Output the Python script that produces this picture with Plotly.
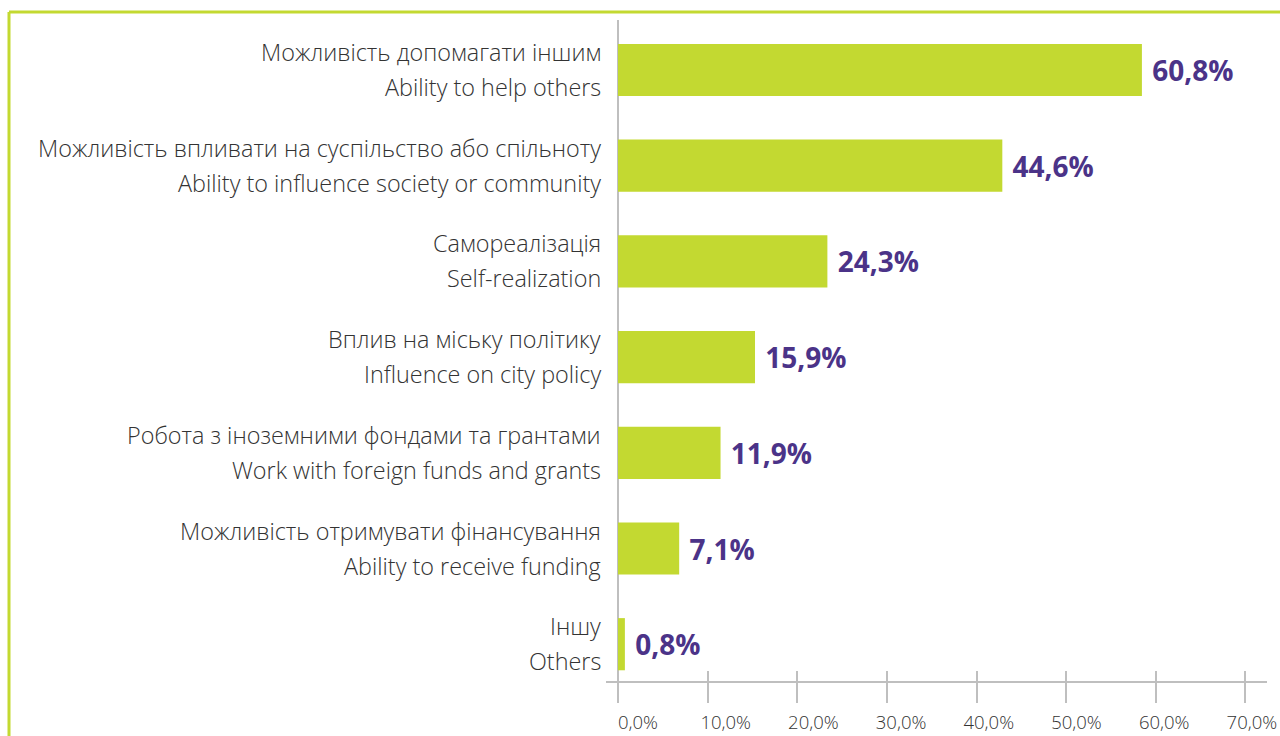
import plotly.graph_objects as go

labels_ua = [
    "Можливість допомагати іншим",
    "Можливість впливати на суспільство або спільноту",
    "Самореалізація",
    "Вплив на міську політику",
    "Робота з іноземними фондами та грантами",
    "Можливість отримувати фінансування",
    "Іншу",
]
labels_en = [
    "Ability to help others",
    "Ability to influence society or community",
    "Self-realization",
    "Influence on city policy",
    "Work with foreign funds and grants",
    "Ability to receive funding",
    "Others",
]
values = [60.8, 44.6, 24.3, 15.9, 11.9, 7.1, 0.8]
tick_vals = [0, 10, 20, 30, 40, 50, 60, 70]
tick_text = ["0,0%", "10,0%", "20,0%", "30,0%", "40,0%", "50,0%", "60,0%", "70,0%"]

GREEN = "#c3d931"
PURPLE = "#4b3388"
GRAY = "#bfbfbf"
TEXT = "#333333"

cats = list(range(len(values)))
value_text = [" " + f"{v:.1f}".replace(".", ",") + "%" for v in values]

fig = go.Figure()
fig.add_trace(go.Bar(
    x=values, y=cats, orientation="h", xaxis="x", yaxis="y",
    marker=dict(color=GREEN, line=dict(width=0)),
    width=0.545,
    text=value_text, textposition="outside", cliponaxis=False,
    textfont=dict(family="Open Sans", size=28, color=PURPLE, weight=700),
    hoverinfo="skip",
))
for ax in ("x2", "x3", "x4"):
    fig.add_trace(go.Scatter(x=[0, 70], y=[0, 0], xaxis=ax, yaxis="y", mode="markers",
                             marker=dict(opacity=0), hoverinfo="skip", showlegend=False))

FW, FH = 1280, 736
# Plot area in px: left 606, right 1267, top 20, bottom 681
L = 606
T = 20
R = FW - 1267
B = FH - 681
W = FW - L - R
H = FH - T - B

zero_px = 618 - L
bar_px_per = 8.617
bar_r0 = -zero_px / bar_px_per
bar_r1 = bar_r0 + W / bar_px_per
tick_px_per = 8.964
tk_r0 = -zero_px / tick_px_per
tk_r1 = tk_r0 + W / tick_px_per
lab_px_per = 8.77
lab_r0 = -(638 - L) / lab_px_per
lab_r1 = lab_r0 + W / lab_px_per

y_step = 95.7
y_top = -(70 - T) / y_step
y_bot = y_top + H / y_step

fig.update_layout(
    width=FW, height=FH,
    margin=dict(l=L, r=R, t=T, b=B, pad=0, autoexpand=False),
    paper_bgcolor="white", plot_bgcolor="white",
    showlegend=False,
    xaxis=dict(range=[bar_r0, bar_r1], visible=False, fixedrange=True, automargin=False),
    xaxis2=dict(
        range=[tk_r0, tk_r1], overlaying="x", anchor="y", side="bottom",
        tickvals=tick_vals, showticklabels=False, automargin=False,
        ticks="outside", ticklen=20, tickwidth=1.5, tickcolor=GRAY,
        showline=True, linecolor=GRAY, linewidth=1.5,
        showgrid=False, zeroline=True, zerolinecolor=GRAY, zerolinewidth=1.5,
    ),
    xaxis3=dict(
        range=[tk_r0, tk_r1], overlaying="x", anchor="y", side="bottom",
        tickvals=tick_vals, showticklabels=False, automargin=False,
        ticks="inside", ticklen=10, tickwidth=1.5, tickcolor=GRAY,
        showline=False, showgrid=False, zeroline=False,
    ),
    xaxis4=dict(
        range=[lab_r0, lab_r1], overlaying="x", anchor="y", side="bottom",
        tickvals=tick_vals, ticktext=tick_text, ticks="", automargin=False,
        showline=False, showgrid=False, zeroline=False,
        ticklabelstandoff=28,
        tickfont=dict(family="Open Sans", size=18.5, color=TEXT, weight=300),
    ),
    yaxis=dict(range=[y_bot, y_top], visible=False, fixedrange=True, automargin=False),
)

annotations = []
for i in cats:
    annotations.append(dict(
        x=0, xref="paper", xanchor="right", xshift=-3,
        y=i, yref="y", yanchor="middle", yshift=18,
        text=labels_ua[i], showarrow=False,
        font=dict(family="Open Sans", size=23.4, color=TEXT, weight=300),
    ))
    annotations.append(dict(
        x=0, xref="paper", xanchor="right", xshift=-3,
        y=i, yref="y", yanchor="middle", yshift=-17,
        text=labels_en[i], showarrow=False,
        font=dict(family="Open Sans", size=23.4, color=TEXT, weight=300),
    ))
fig.update_layout(annotations=annotations)

# decorative frame (left and top border), px x=9, y=12
fx = (9 - L) / W
fy_top = ((FH - B) - 12) / H
fig.add_shape(type="line", xref="paper", yref="paper", x0=fx, x1=(FW + 5 - L) / W,
              y0=fy_top, y1=fy_top, line=dict(color=GREEN, width=3), layer="above")
fig.add_shape(type="line", xref="paper", yref="paper", x0=fx, x1=fx,
              y0=fy_top, y1=-(B + 5) / H, line=dict(color=GREEN, width=3), layer="above")

fig.write_html(
    "out.html",
    config={"responsive": False, "displayModeBar": False},
    post_script="document.body.style.margin='0';document.body.style.overflow='hidden';",
)
